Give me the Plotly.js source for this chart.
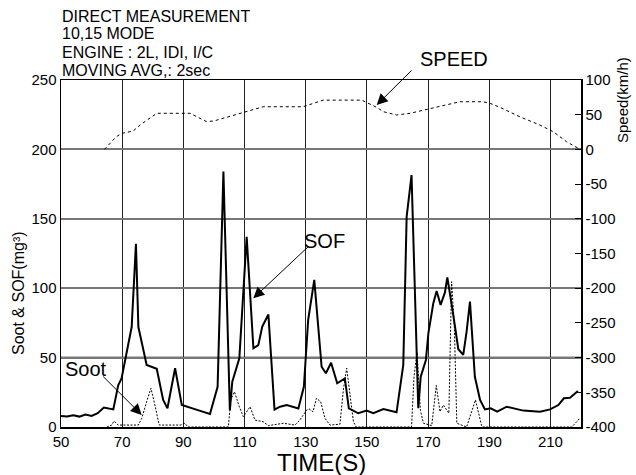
<!DOCTYPE html>
<html>
<head>
<meta charset="utf-8">
<script src="https://cdn.plot.ly/plotly-3.0.1.min.js"></script>
<style>
html,body{margin:0;padding:0;background:#fff;}
#chart{width:636px;height:475px;}
</style>
</head>
<body>
<div id="chart"></div>
<script>
// ---- data ----
var sofTime = [50,52,54,56,58,60,62,64,67.1,68.7,69.8,73.1,74.5,75.3,78,81.3,83.4,84.8,87.3,89.5,95,98.7,101.2,103.1,105.2,106,108.3,110.7,112.9,114.5,115.8,117.8,119.8,121.6,123.8,127.6,129.4,130.8,132.8,135.2,136.6,138.3,140.3,142.8,144.1,147.2,149.9,152.1,155.4,159.7,161.9,163,164.6,166.8,167.6,169.3,170.1,171.7,172.8,174.1,175.5,176.3,178,179.9,181.5,182.6,183.7,185.3,187,188.6,190.5,192.6,195.7,201.1,206.6,209.9,212.6,214.4,216.4,219];
var sofValue = [8,7.5,8.5,7.5,9,8,10,14,12.7,30,35,72,132,72,44.7,42,19.5,13.5,42.3,15.8,12,9.4,29,184,12,32.6,49.5,137,56.7,59,72.3,81,12.5,14.6,15.8,13.3,29,77,106,43.4,38.7,46.3,31.5,35,13.5,9.9,11.8,9.9,13,10.6,44.7,151.5,181.5,13.5,36.2,48.3,67.5,89,98,88,96.8,107.8,84.3,56,51.9,68.7,90.3,36.2,19.5,12.7,13.5,11,14.6,11.8,11,12.7,15.8,20.7,21.1,26];

var sootTime = [65,66.6,67.3,68.7,75.3,76.4,78,79.4,80.7,82.1,89,90.5,91.5,104.7,105.5,106.7,108.3,109.6,111.8,113.4,116.1,117.8,122.7,126.5,128.1,130.3,131.1,132.4,133.5,134.9,136.3,137.9,141.2,142.3,143.4,144.5,145.6,146.5,164.6,165.4,166.4,167.5,168.5,171.2,171.7,172.7,173.9,175,176.8,177.7,178.6,179.4,182.6,185.5,187.5,188,217,218.5,219.5];
var sootValue = [0,1.4,4.3,1.4,1.4,6.3,18.2,27.9,15.8,1.4,1.4,2.7,0,0,19.5,25.4,14.6,7.4,14.6,5,3.8,1,2.7,1.4,5,12.2,13,11,20.7,18.2,6.3,1.4,2,26.7,42.3,24.3,3.8,0,0,36,54,12,2.7,1,9.9,30,11,15.8,9.9,104.7,72.3,2.7,0,19.5,1,0,0,4,6];

var speedTime = [64.2,66,68,69.8,73.6,75.8,78.5,81.3,92.2,94.5,97.6,100,103,106,109.6,113,116.1,129.2,132,135.7,148.3,150.5,153.2,155.4,159.7,164.1,169.5,176.1,180.4,188,190.5,193.5,200,206.6,210.9,215.3,219.1];
var speedValue = [0,8,18,23,26.5,35,44,52,52,47,40,41,45,49,53,58,61.5,61.5,66,71,71,66,60.6,54.3,49.6,52,57.8,64,68.7,68.7,66,60.6,47,35,25.5,11,1.6];

var xTicks = [50,70,90,110,130,150,170,190,210];
var leftTicks = [0,50,100,150,200,250];
var rightTicks = [100,50,0,-50,-100,-150,-200,-250,-300,-350,-400];

var headerLines = ["DIRECT MEASUREMENT","10,15 MODE","ENGINE : 2L, IDI, I/C","MOVING AVG,: 2sec"];

// ---- layout helpers (pixel -> paper) ----
var PL = 61, PR = 581, PT = 80, PB = 427;
function px2x(px){ return (px - PL) / (PR - PL); }
function py2y(py){ return (PB - py) / (PB - PT); }

var FONT = "Liberation Sans, Arial, Helvetica, sans-serif";

var traces = [
  {x: speedTime, y: speedValue, yaxis: 'y2', type: 'scatter', mode: 'lines',
   line: {color: '#000', width: 1, dash: '3px,3px'}, hoverinfo: 'skip'},
  {x: sootTime, y: sootValue, type: 'scatter', mode: 'lines',
   line: {color: '#000', width: 1, dash: '2px,1.5px'}, hoverinfo: 'skip'},
  {x: sofTime, y: sofValue, type: 'scatter', mode: 'lines',
   line: {color: '#000', width: 2}, hoverinfo: 'skip'}
];

var annotations = [];
var headerY = [16.5, 34, 52.5, 70.5];
headerLines.forEach(function(t, i){
  annotations.push({text: t, xref: 'paper', yref: 'paper', x: px2x(60), y: py2y(headerY[i]),
    xanchor: 'left', yanchor: 'middle', showarrow: false, font: {family: FONT, size: 16, color: '#000'}});
});
// labels
annotations.push({text: 'SPEED', xref: 'paper', yref: 'paper', x: px2x(454), y: py2y(59), xanchor: 'center', yanchor: 'middle', showarrow: false, font: {family: FONT, size: 20, color: '#000'}});
annotations.push({text: 'SOF', xref: 'paper', yref: 'paper', x: px2x(324), y: py2y(241), xanchor: 'center', yanchor: 'middle', showarrow: false, font: {family: FONT, size: 20, color: '#000'}});
annotations.push({text: 'Soot', xref: 'paper', yref: 'paper', x: px2x(86), y: py2y(369), xanchor: 'center', yanchor: 'middle', showarrow: false, font: {family: FONT, size: 20, color: '#000'}});
// arrows
function arrow(tipPx, tipPy, tailPx, tailPy){
  return {text: '', xref: 'paper', yref: 'paper', x: px2x(tipPx), y: py2y(tipPy),
    ax: tailPx - tipPx, ay: tailPy - tipPy, showarrow: true, arrowhead: 2, arrowsize: 2.2,
    arrowwidth: 1, arrowcolor: '#000'};
}
annotations.push(arrow(376.7, 105, 413, 69));
annotations.push(arrow(253.3, 298.3, 310, 245));
annotations.push(arrow(141.7, 415, 101.7, 375));
// axis titles
annotations.push({text: 'TIME(S)', xref: 'paper', yref: 'paper', x: px2x(321), y: py2y(462), xanchor: 'center', yanchor: 'middle', showarrow: false, font: {family: FONT, size: 24, color: '#000'}});
annotations.push({text: 'Soot & SOF(mg³)', xref: 'paper', yref: 'paper', x: px2x(18), y: py2y(293), xanchor: 'center', yanchor: 'middle', textangle: -90, showarrow: false, font: {family: FONT, size: 16, color: '#000'}});
annotations.push({text: 'Speed(km/h)', xref: 'paper', yref: 'paper', x: px2x(622), y: py2y(100), xanchor: 'center', yanchor: 'middle', textangle: -90, showarrow: false, font: {family: FONT, size: 15, color: '#000'}});

var layout = {
  width: 636, height: 475,
  margin: {l: PL, r: 636 - PR, t: PT, b: 475 - PB, pad: 0},
  paper_bgcolor: '#fff', plot_bgcolor: '#fff',
  showlegend: false,
  font: {family: FONT, size: 15, color: '#000'},
  xaxis: {range: [50, 220], tickvals: xTicks, ticktext: xTicks.map(String), showgrid: true,
    gridcolor: '#222', gridwidth: 1, zeroline: false, showline: true, linecolor: '#000', linewidth: 1.5,
    mirror: true, ticks: '', tickfont: {family: FONT, size: 15, color: '#000'}},
  yaxis: {range: [0, 250], tickvals: leftTicks, ticktext: leftTicks.map(String), showgrid: true,
    gridcolor: '#777', gridwidth: 2, zeroline: false, showline: true, linecolor: '#000', linewidth: 1.5,
    mirror: true, ticks: '', tickfont: {family: FONT, size: 15, color: '#000'}},
  yaxis2: {range: [-400, 100], overlaying: 'y', side: 'right', tickvals: rightTicks, ticktext: rightTicks.map(String),
    showgrid: false, zeroline: false, showline: true, linecolor: '#000', linewidth: 1.5,
    ticks: 'inside', ticklen: 6, tickcolor: '#000', tickwidth: 1, tickfont: {family: FONT, size: 15, color: '#000'}},
  shapes: [
    {type: 'line', xref: 'paper', yref: 'y', x0: 0, x1: 1, y0: 50, y1: 50, line: {color: '#000', width: 1.5}, layer: 'below'}
  ],
  annotations: annotations
};

Plotly.newPlot('chart', traces, layout, {staticPlot: true, displayModeBar: false});
</script>
</body>
</html>
